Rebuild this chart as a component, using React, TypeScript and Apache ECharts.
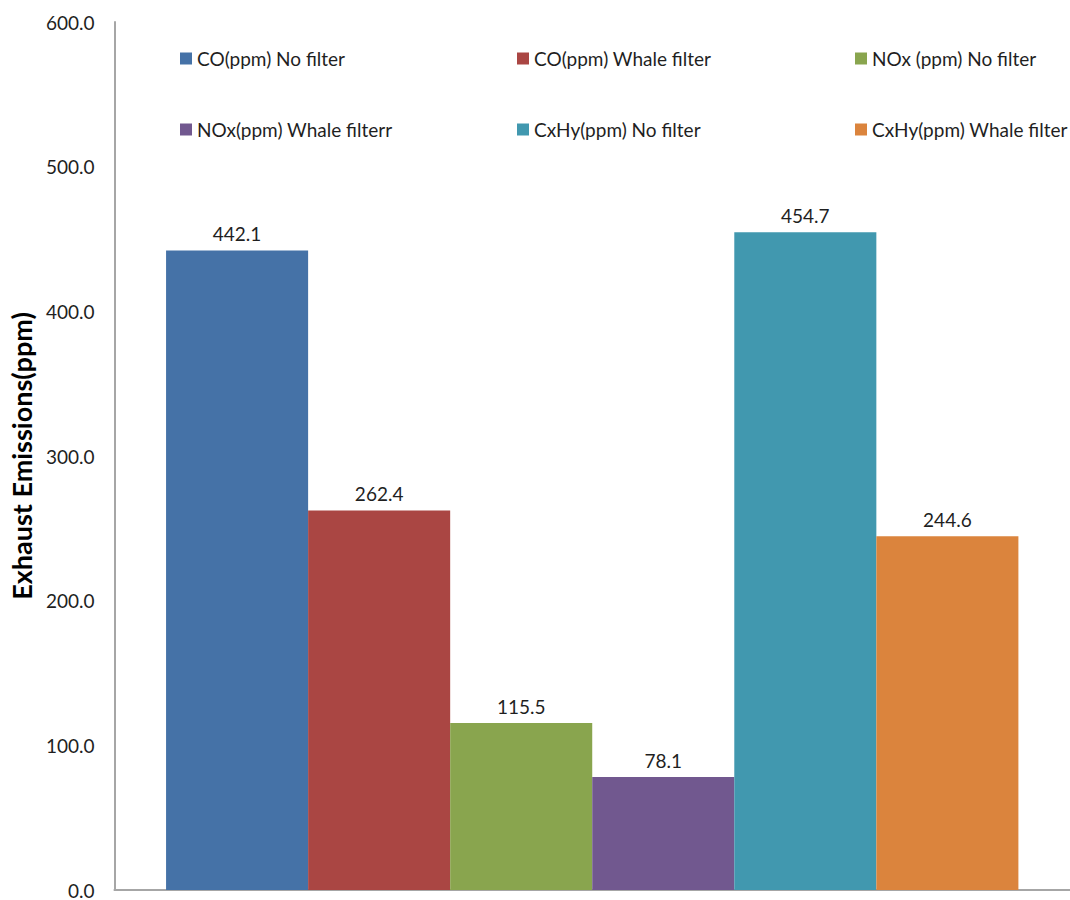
import React, { useEffect, useRef } from "react";
import * as echarts from "echarts";

const categories = [""];
const seriesNames = [
  "CO(ppm) No filter",
  "CO(ppm) Whale filter",
  "NOx (ppm) No filter",
  "NOx(ppm) Whale filterr",
  "CxHy(ppm) No filter",
  "CxHy(ppm) Whale filter",
];
const seriesValues = [442.1, 262.4, 115.5, 78.1, 454.7, 244.6];
const seriesColors = ["#4572A7", "#AA4643", "#89A54E", "#71588F", "#4198AF", "#DB843D"];
const legendLeft = [180, 517, 855, 180, 517, 855];
const legendTop = [49, 49, 49, 120, 120, 120];

export default function App() {
  const ref = useRef<HTMLDivElement>(null);
  useEffect(() => {
    if (!ref.current) return;
    const chart = echarts.init(ref.current, null, { renderer: "svg" });
    const font = "Lato, 'Open Sans', sans-serif";
    chart.setOption({
      animation: false,
      backgroundColor: "#ffffff",
      textStyle: { fontFamily: font },
      legend: seriesNames.map((n, i) => ({
        data: [n],
        left: legendLeft[i],
        top: legendTop[i],
        icon: "rect",
        itemWidth: 12,
        itemHeight: 12,
        itemGap: 6,
        padding: 0,
        textStyle: { fontSize: 19, color: "#1f1f1f", fontFamily: font },
      })),
      grid: { left: 113, top: 22, right: 0, bottom: 10, containLabel: false },
      xAxis: {
        type: "category",
        data: categories,
        axisLine: { lineStyle: { color: "#A6A6A6", width: 2 } },
        axisTick: { show: false },
        axisLabel: { show: false },
      },
      yAxis: {
        type: "value",
        min: 0,
        max: 600,
        interval: 100,
        name: "Exhaust Emissions(ppm)",
        nameLocation: "middle",
        nameGap: 78,
        nameTextStyle: { fontSize: 27, fontWeight: "bold", color: "#000", fontFamily: font },
        axisLine: { show: true, lineStyle: { color: "#A6A6A6", width: 2 } },
        axisTick: { show: false },
        splitLine: { show: false },
        axisLabel: {
          fontSize: 19,
          lineHeight: 17,
          color: "#1f1f1f",
          margin: 20,
          formatter: (v: number) => v.toFixed(1),
        },
      },
      series: seriesNames.map((n, i) => ({
        name: n,
        type: "bar",
        data: [seriesValues[i]],
        barGap: "0%",
        barCategoryGap: "10.8%",
        itemStyle: { color: seriesColors[i] },
        label: {
          show: true,
          position: "top",
          distance: 7,
          fontSize: 19,
          color: "#1f1f1f",
          formatter: (p: any) => Number(p.value).toFixed(1),
        },
      })),
    });
    return () => chart.dispose();
  }, []);
  return (
    <div
      ref={ref}
      style={{ position: "absolute", left: 0, top: 0, width: 1070, height: 900 }}
    />
  );
}
